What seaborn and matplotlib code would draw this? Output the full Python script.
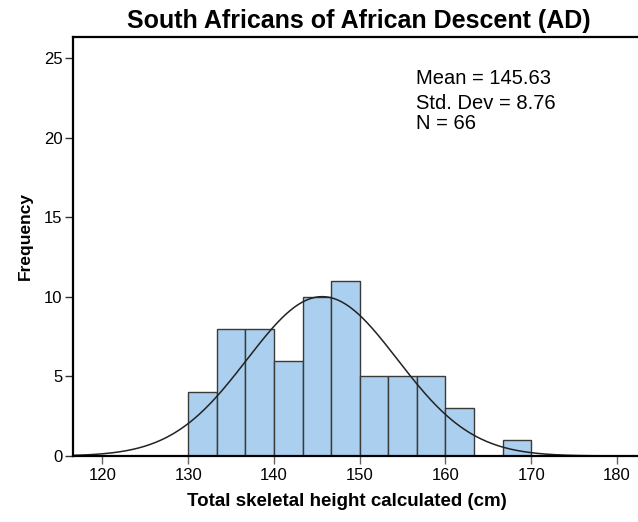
import numpy as np
import pandas as pd
import matplotlib
matplotlib.use("Agg")
import matplotlib.pyplot as plt
import seaborn as sns

# Data
bin_edges = [130.0, 133.333, 136.667, 140.0, 143.333, 146.667, 150.0,
             153.333, 156.667, 160.0, 163.333, 166.667, 170.0]
counts = [4, 8, 8, 6, 10, 11, 5, 5, 5, 3, 0, 1]
mean_val = 145.63
std_val = 8.76
n_val = 66
x_ticks = [120, 130, 140, 150, 160, 170, 180]
y_ticks = [0, 5, 10, 15, 20, 25]

sns.set_style("white")
plt.rcParams['font.family'] = ['Liberation Sans', 'DejaVu Sans']
plt.rcParams['text.color'] = 'black'
plt.rcParams['axes.labelcolor'] = 'black'
plt.rcParams['xtick.labelcolor'] = 'black'
plt.rcParams['ytick.labelcolor'] = 'black'

centers = [(bin_edges[i] + bin_edges[i + 1]) / 2 for i in range(len(counts))]
df = pd.DataFrame({"height": centers, "count": counts})

fig = plt.figure(figsize=(6.38, 5.22), dpi=100)
ax = fig.add_axes([73 / 638, 66 / 522, (638 - 73) / 638, (456 - 37) / 522])

sns.histplot(data=df, x="height", weights="count", bins=bin_edges,
             color="#abcfee", alpha=1.0, edgecolor="#3a3a3a", linewidth=1.0, ax=ax)

# Fitted normal curve from stated mean / std / N
bw = bin_edges[1] - bin_edges[0]
xs = np.linspace(116.6, 182.5, 400)
ys = n_val * bw / (std_val * np.sqrt(2 * np.pi)) * np.exp(-0.5 * ((xs - mean_val) / std_val) ** 2)
sns.lineplot(x=xs, y=ys, color="#222222", linewidth=1.1, ax=ax)

ax.set_xlim(116.57, 182.45)
ax.set_ylim(0, 26.34)
ax.set_xticks(x_ticks)
ax.set_yticks(y_ticks)
ax.tick_params(axis="both", direction="out", length=6, width=1, labelsize=12)
ax.tick_params(axis="x", color="#666666", pad=2.5)
ax.tick_params(axis="y", color="#333333", pad=1.5)
ax.xaxis.set_ticks_position("bottom")
ax.yaxis.set_ticks_position("left")
for side in ["left", "top", "bottom"]:
    ax.spines[side].set_color("black")
    ax.spines[side].set_linewidth(1.6)
ax.spines["right"].set_visible(False)

ax.set_xlabel("Total skeletal height calculated (cm)", fontsize=13.5, fontweight="bold")
ax.set_ylabel("Frequency", fontsize=12.5, fontweight="bold")
ax.xaxis.set_label_coords((347 - 73) / 565, (456 - 493.5) / 419)
ax.yaxis.set_label_coords((33 - 73) / 565, (456 - 236.5) / 419)

fig.text(358.5 / 638, 1 - 28 / 522, "South Africans of African Descent (AD)",
         ha="center", va="baseline", fontsize=18, fontweight="bold")

for txt, yb in [(f"Mean = {mean_val:.2f}", 83.7),
                (f"Std. Dev = {std_val:.2f}", 108.7),
                (f"N = {n_val}", 128.7)]:
    fig.text(415.5 / 638, 1 - yb / 522, txt, fontsize=14.5, va="baseline", ha="left")

fig.savefig("out.png", dpi=100)
